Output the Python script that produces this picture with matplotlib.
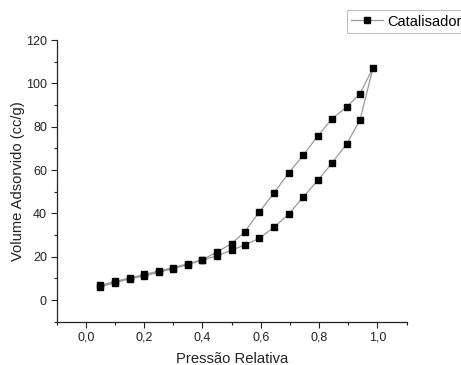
import matplotlib
matplotlib.use("Agg")
import matplotlib.pyplot as plt
from matplotlib.ticker import MultipleLocator, FuncFormatter

plt.rcParams['font.family'] = ['Liberation Sans', 'DejaVu Sans']

# Adsorption branch (increasing pressure)
p_ads = [0.05, 0.10, 0.15, 0.20, 0.25, 0.30, 0.35, 0.40, 0.45, 0.50,
         0.545, 0.595, 0.645, 0.695, 0.745, 0.795, 0.845, 0.895, 0.94, 0.985]
v_ads = [6.2, 8.0, 9.8, 11.1, 12.8, 14.5, 16.4, 18.4, 20.5, 23.0,
         25.5, 28.5, 33.6, 39.6, 47.5, 55.2, 63.4, 72.2, 83.1, 107.3]
# Desorption branch (decreasing pressure)
p_des = [0.94, 0.895, 0.845, 0.795, 0.745, 0.695, 0.645, 0.595, 0.545,
         0.50, 0.45, 0.40, 0.35, 0.30, 0.25, 0.20, 0.15, 0.10, 0.05]
v_des = [95.2, 89.2, 83.8, 75.7, 66.8, 58.6, 49.4, 40.7, 31.5,
         26.1, 22.2, 18.6, 16.8, 15.0, 13.4, 11.8, 10.2, 8.6, 6.8]

series_name = "Catalisador"
x_label = "Pressão Relativa"
y_label = "Volume Adsorvido (cc/g)"

x = p_ads + p_des
y = v_ads + v_des

fig = plt.figure(figsize=(4.61, 3.65), dpi=100)
ax = fig.add_axes([0.123, 0.1186, 0.759, 0.7714])

line, = ax.plot(x, y, color='#9a9a9a', linewidth=0.9, marker='s',
                markersize=4.6, markerfacecolor='black', markeredgecolor='black',
                label=series_name)

ax.set_xlim(-0.1, 1.1)
ax.set_ylim(-10, 120)
ax.spines['top'].set_visible(False)
ax.spines['right'].set_visible(False)
for s in ['left', 'bottom']:
    ax.spines[s].set_linewidth(0.9)
    ax.spines[s].set_color('#222222')

ax.xaxis.set_major_locator(MultipleLocator(0.2))
ax.xaxis.set_minor_locator(MultipleLocator(0.1))
ax.yaxis.set_major_locator(MultipleLocator(20))
ax.yaxis.set_minor_locator(MultipleLocator(10))
ax.xaxis.set_major_formatter(FuncFormatter(lambda v, pos: f"{v:.1f}".replace('.', ',')))
ax.yaxis.set_major_formatter(FuncFormatter(lambda v, pos: f"{v:.0f}"))

ax.tick_params(which='major', direction='out', length=4, width=0.8, labelsize=9,
               colors='#222222', pad=3)
ax.tick_params(which='minor', direction='out', length=2.5, width=0.8, colors='#222222')

ax.set_xlabel(x_label, fontsize=10.6, color='#222222', labelpad=6)
ax.set_ylabel(y_label, fontsize=10.6, color='#222222', labelpad=1)

leg = fig.legend(handles=[line], loc='upper left', bbox_to_anchor=(0.752, 0.972),
                 fontsize=10.5, frameon=True, fancybox=False, borderpad=0.3,
                 handlelength=2.2, handletextpad=0.3, borderaxespad=0)
leg.get_frame().set_edgecolor('#b0b0b0')
leg.get_frame().set_linewidth(0.8)

fig.savefig("out.png", dpi=100)
